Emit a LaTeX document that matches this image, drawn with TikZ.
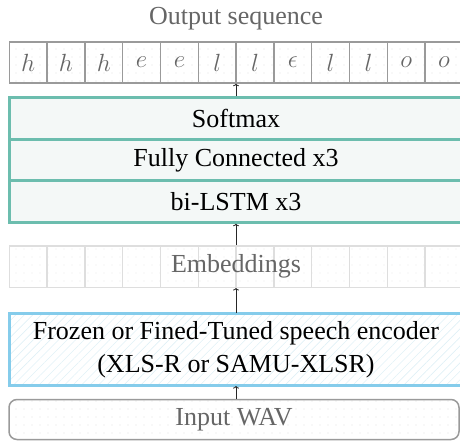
\documentclass[tikz,border=0pt]{standalone}
\usepackage{fontspec}
\setmainfont{Liberation Serif}
\usetikzlibrary{patterns.meta,arrows.meta}
\definecolor{tealb}{HTML}{6CBDAE}
\definecolor{tealf}{HTML}{F4F8F7}
\definecolor{blueb}{HTML}{85CCEB}
\definecolor{hatchc}{HTML}{E0F0F6}
\definecolor{cellb}{HTML}{9A9A9A}
\definecolor{embb}{HTML}{DEDEDE}
\definecolor{dotc}{HTML}{E2E2E2}
\definecolor{txtg}{HTML}{666666}
\tikzset{
  x=1pt, y=-1pt,
  big/.style={font=\fontsize{26}{33}\selectfont},
  outcell/.style={draw=cellb, line width=1.5pt, minimum width=37.8pt, minimum height=41pt,
    inner sep=0pt, pattern={Dots[distance=8pt,radius=0.6pt]}, pattern color=dotc,
    text=txtg, font=\fontsize{24}{28}\selectfont},
  embcell/.style={draw=embb, line width=1.5pt, minimum width=37.8pt, minimum height=41.5pt,
    inner sep=0pt, pattern={Dots[distance=8pt,radius=0.6pt]}, pattern color=dotc!80},
  layer/.style={draw=tealb, fill=tealf, line width=3pt, minimum width=454pt,
    minimum height=41.5pt, inner sep=0pt, big},
  arr/.style={-{To[length=2.5pt,width=6pt]}, line width=0.8pt, black!85},
}
\begin{document}
\begin{tikzpicture}
\useasboundingbox (0,0) rectangle (460,441);
% output sequence
\node[big, text=txtg, anchor=base] (title) at (236,25) {Output sequence};
\foreach \c [count=\i from 0] in {h,h,h,e,e,l,l,\epsilon,l,l,o,o}{
  \node[outcell] (o\i) at ({9.3+37.8*(\i+0.5)},62.5) {$\c$};
}
% teal stack
\node[layer] (lstm) at (236,201.5) {bi-LSTM x3};
\node[layer] (fc) at (236,160) {Fully Connected x3};
\node[layer] (soft) at (236,118.5) {Softmax};
% embeddings
\foreach \i in {0,...,11}{
  \node[embcell] (e\i) at ({9.3+37.8*(\i+0.5)},266.5) {};
}
\node[big, text=txtg] (emb) at (236,266.5) {Embeddings};
% encoder
\node[draw=blueb, line width=3pt, minimum width=454pt, minimum height=72.5pt,
  pattern={Lines[angle=45,distance=6pt,line width=0.6pt]}, pattern color=hatchc,
  align=center, big, inner sep=0pt] (enc) at (236,349.5)
  {Frozen or Fined-Tuned speech encoder\\(XLS-R or SAMU-XLSR)};
% input
\node[draw=cellb, line width=1.5pt, rounded corners=8pt, minimum width=450pt,
  minimum height=40pt, pattern={Dots[distance=8pt,radius=0.6pt]}, pattern color=dotc,
  big, text=txtg, inner sep=0pt] (wav) at (234,419.5) {Input WAV};
% arrows
\draw[arr] (soft.north) -- (soft.north |- o0.south);
\draw[arr] (emb.north |- e0.north) -- (lstm.south);
\draw[arr] (enc.north) -- (enc.north |- e0.south);
\draw[arr] (enc.south |- wav.north) -- (enc.south);
\end{tikzpicture}
\end{document}
